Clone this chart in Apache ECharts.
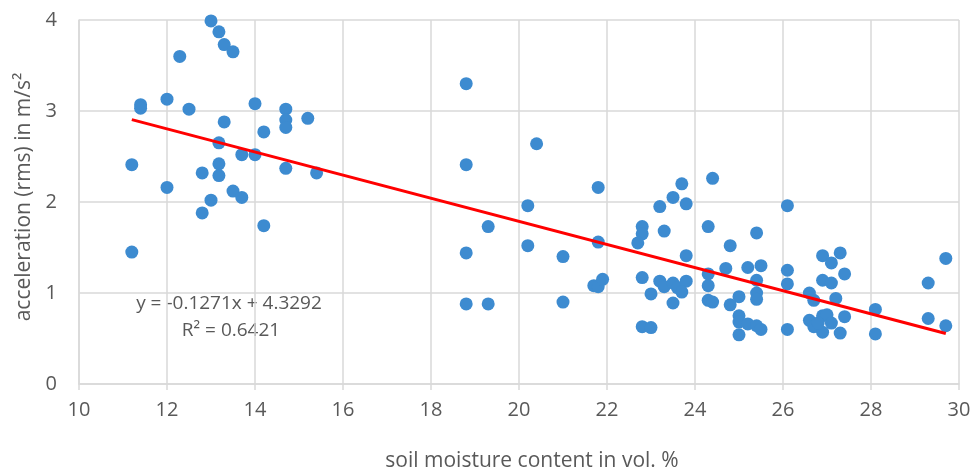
<!DOCTYPE html>
<html>
<head>
<meta charset="utf-8">
<script src="https://cdn.jsdelivr.net/npm/echarts@6/dist/echarts.min.js"></script>
<style>
  html, body { margin: 0; padding: 0; background: #ffffff; }
  #chart { width: 975px; height: 473px; }
</style>
</head>
<body>
<div id="chart"></div>
<script>
// Soil moisture (vol. %) and measured rms acceleration (m/s²)
const moisture = [
  13.0, 13.18, 13.3, 13.5, 12.29, 11.4, 11.4, 12.0, 12.5, 14.0,
  14.7, 14.7, 14.7, 15.2, 13.3, 14.2, 13.18, 13.7, 14.0, 11.2,
  13.18, 14.7, 15.4, 12.8, 13.18, 12.0, 13.5, 13.7, 13.0, 12.8,
  14.2, 11.2,
  18.8, 18.8, 20.4, 19.3, 20.2, 18.8, 20.2, 21.0, 18.8, 19.3,
  21.0, 21.8, 21.8, 21.7, 21.8, 21.9, 22.8, 22.8, 22.7, 22.8,
  23.0, 22.8, 23.0, 23.2, 23.5, 23.7, 23.8, 23.3, 23.8, 23.2,
  23.3, 23.5, 23.6, 23.8, 23.7, 23.5,
  24.4, 26.1, 24.3, 25.4, 24.8, 24.7, 25.2, 25.5, 26.1, 24.3,
  24.3, 25.4, 26.1, 25.4, 25.4, 24.3, 24.4, 25.0, 24.8, 25.0,
  25.0, 25.2, 25.4, 25.5, 25.0, 26.1, 26.9, 27.1, 27.3, 27.4,
  26.9, 27.1, 26.6, 26.7, 27.2, 26.6, 26.7, 26.9, 26.9, 27.0,
  27.1, 27.3, 27.4, 26.8, 28.1, 28.1, 29.3, 29.3, 29.7, 29.7
];
const acceleration = [
  3.99, 3.87, 3.73, 3.65, 3.60, 3.07, 3.03, 3.13, 3.02, 3.08,
  3.02, 2.90, 2.82, 2.92, 2.88, 2.77, 2.65, 2.52, 2.52, 2.41,
  2.42, 2.37, 2.32, 2.32, 2.29, 2.16, 2.12, 2.05, 2.02, 1.88,
  1.74, 1.45,
  3.30, 2.41, 2.64, 1.73, 1.96, 1.44, 1.52, 1.40, 0.88, 0.88,
  0.90, 2.16, 1.56, 1.08, 1.07, 1.15, 1.73, 1.65, 1.55, 1.17,
  0.99, 0.63, 0.62, 1.95, 2.05, 2.20, 1.98, 1.68, 1.41, 1.13,
  1.07, 1.11, 1.06, 1.13, 1.01, 0.89,
  2.26, 1.96, 1.73, 1.66, 1.52, 1.27, 1.28, 1.30, 1.25, 1.21,
  1.08, 1.14, 1.10, 1.00, 0.93, 0.92, 0.90, 0.96, 0.87, 0.75,
  0.68, 0.66, 0.64, 0.60, 0.54, 0.60, 1.41, 1.33, 1.44, 1.21,
  1.14, 1.11, 1.00, 0.92, 0.94, 0.70, 0.63, 0.75, 0.57, 0.76,
  0.67, 0.56, 0.74, 0.67, 0.82, 0.55, 1.11, 0.72, 1.38, 0.64
];

// Linear regression shown on the chart
const slope = -0.1271;
const intercept = 4.3292;
const rSquared = 0.6421;
const trendRange = [11.2, 29.7];

const xTicks = [10, 12, 14, 16, 18, 20, 22, 24, 26, 28, 30];
const yTicks = [0, 1, 2, 3, 4];

const points = moisture.map((m, i) => [m, acceleration[i]]);
const trend = trendRange.map(x => [x, slope * x + intercept]);

const FONT = '"Open Sans", "Noto Sans", sans-serif';
const TEXT = '#595959';
const GRID = '#d9d9d9';

const chart = echarts.init(document.getElementById('chart'), null, { renderer: 'canvas' });
chart.setOption({
  animation: false,
  backgroundColor: '#ffffff',
  grid: { left: 79, right: 16, top: 20, bottom: 89, containLabel: false },
  xAxis: {
    type: 'value',
    min: xTicks[0], max: xTicks[xTicks.length - 1], interval: 2,
    axisLine: { show: true, lineStyle: { color: GRID, width: 1.5 } },
    axisTick: { show: true, length: 6, lineStyle: { color: GRID, width: 1.5 } },
    splitLine: { show: true, lineStyle: { color: GRID, width: 1.5 } },
    axisLabel: { color: TEXT, fontFamily: FONT, fontSize: 20, margin: 16 }
  },
  yAxis: {
    type: 'value',
    min: yTicks[0], max: yTicks[yTicks.length - 1], interval: 1,
    axisLine: { show: true, lineStyle: { color: GRID, width: 1.5 } },
    axisTick: { show: false },
    splitLine: { show: true, lineStyle: { color: GRID, width: 1.5 } },
    axisLabel: { color: TEXT, fontFamily: FONT, fontSize: 20, margin: 22 }
  },
  series: [
    {
      type: 'scatter',
      data: points,
      symbol: 'circle',
      symbolSize: 13,
      itemStyle: { color: '#3d8bd0', opacity: 1 },
      z: 2
    },
    {
      type: 'line',
      data: trend,
      symbol: 'none',
      lineStyle: { color: '#ff0000', width: 3 },
      z: 3
    }
  ],
  graphic: [
    {
      type: 'text',
      x: 532, y: 461,
      style: {
        text: 'soil moisture content in vol. %',
        fill: TEXT, font: '21px ' + FONT,
        textAlign: 'center', textVerticalAlign: 'middle'
      }
    },
    {
      type: 'text',
      x: 24, y: 197, rotation: Math.PI / 2,
      style: {
        text: 'acceleration (rms) in m/s²',
        fill: TEXT, font: '21px ' + FONT,
        textAlign: 'center', textVerticalAlign: 'middle'
      }
    },
    {
      type: 'text',
      x: 229, y: 304,
      style: {
        text: 'y = ' + slope.toFixed(4) + 'x + ' + intercept.toFixed(4),
        fill: TEXT, font: '19px ' + FONT,
        textAlign: 'center', textVerticalAlign: 'middle'
      }
    },
    {
      type: 'text',
      x: 231, y: 331,
      style: {
        text: 'R² = ' + rSquared.toFixed(4),
        fill: TEXT, font: '19px ' + FONT,
        textAlign: 'center', textVerticalAlign: 'middle'
      }
    }
  ]
});
</script>
</body>
</html>
